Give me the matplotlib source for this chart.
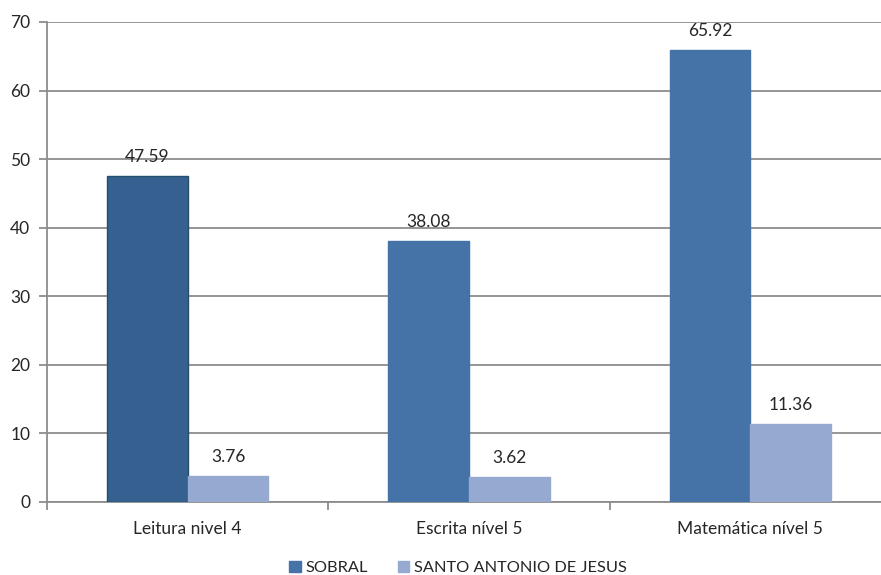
import matplotlib.pyplot as plt
import numpy as np

categories = ["Leitura nivel 4", "Escrita nível 5", "Matemática nível 5"]
sobral = [47.59, 38.08, 65.92]
santo_antonio = [3.76, 3.62, 11.36]
series_names = ["SOBRAL", "SANTO ANTONIO DE JESUS"]

plt.rcParams['font.family'] = ['Lato', 'DejaVu Sans']
text_color = "#262626"

fig = plt.figure(figsize=(8.81, 5.75), dpi=100)
ax = fig.add_axes([47 / 881, 1 - 502 / 575, 844 / 881, 480 / 575])

x = np.arange(len(categories))
w = 0.287
sob_colors = ["#35608F", "#4573A7", "#4573A7"]
sob_edges = ["#23506A", "#4573A7", "#4573A7"]
bars1 = ax.bar(x - w / 2, sobral, w, color=sob_colors, edgecolor=sob_edges,
               linewidth=1, label=series_names[0], zorder=3)
bars2 = ax.bar(x + w / 2, santo_antonio, w, color="#95A9D1", edgecolor="#95A9D1",
               linewidth=1, label=series_names[1], zorder=3)

for bars, vals in ((bars1, sobral), (bars2, santo_antonio)):
    for b, v in zip(bars, vals):
        ax.text(b.get_x() + b.get_width() / 2, v + 1.6, f"{v:.2f}",
                ha="center", va="bottom", fontsize=12.5, color=text_color)

ax.set_xlim(-0.5, 2.5)
ax.set_ylim(0, 70)
ax.set_yticks(range(0, 71, 10))
ax.yaxis.grid(True, color="#8C8C8C", linewidth=1.3, zorder=0)
ax.set_axisbelow(True)

ax.set_xticks(x)
ax.set_xticklabels(categories, fontsize=12.5, color=text_color)
ax.tick_params(axis="x", length=0, pad=14)
ax.set_xticks([-0.5, 0.5, 1.5, 2.5], minor=True)
ax.tick_params(axis="x", which="minor", length=6, color="#8C8C8C", width=1.3)
ax.tick_params(axis="y", labelsize=12.5, labelcolor=text_color, length=6,
               color="#8C8C8C", width=1.3, pad=6)

for s in ("top", "right"):
    ax.spines[s].set_visible(False)
for s in ("left", "bottom"):
    ax.spines[s].set_color("#8C8C8C")
    ax.spines[s].set_linewidth(1.3)

handles = [plt.Rectangle((0, 0), 1, 1, color="#4573A7"),
           plt.Rectangle((0, 0), 1, 1, color="#95A9D1")]
fig.legend(handles, series_names, loc="center", bbox_to_anchor=(458 / 881, 1 - 568 / 575),
           ncol=2, frameon=False, fontsize=11.8, handlelength=0.7, handleheight=0.7,
           handletextpad=0.3, columnspacing=1.8, labelcolor=text_color)

fig.savefig("out.png", dpi=100)
